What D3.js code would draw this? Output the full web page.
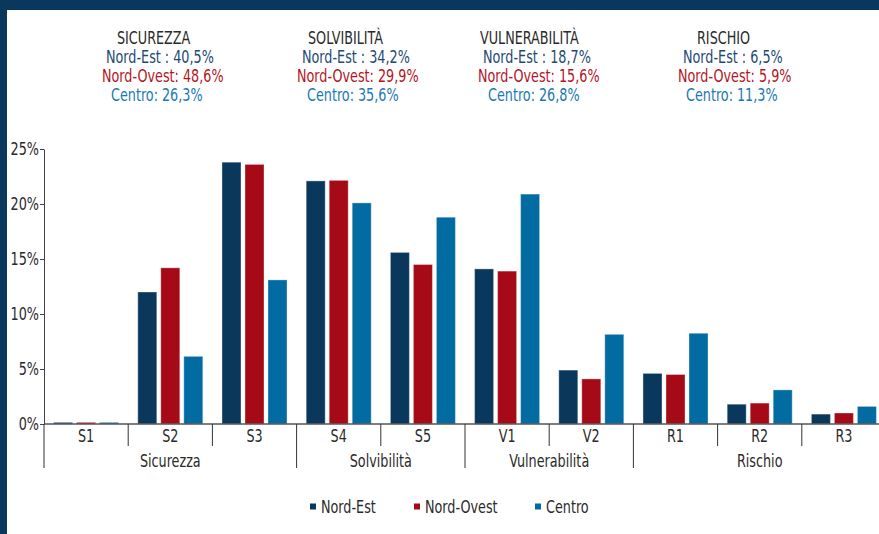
<!DOCTYPE html>
<html>
<head>
<meta charset="utf-8">
<script src="https://cdn.jsdelivr.net/npm/d3@7"></script>
<style>
  html, body { margin: 0; padding: 0; background: #fff; }
  svg { display: block; }
  text { font-family: "Liberation Sans Narrow", "DejaVu Sans Condensed", "Roboto", sans-serif; }
</style>
</head>
<body>
<div id="chart"></div>
<script>
// Indicator categories and their groups
const categories = ["S1", "S2", "S3", "S4", "S5", "V1", "V2", "R1", "R2", "R3"];
const groups = [
  { name: "Sicurezza", from: "S1", to: "S3" },
  { name: "Solvibilità", from: "S4", to: "S5" },
  { name: "Vulnerabilità", from: "V1", to: "V2" },
  { name: "Rischio", from: "R1", to: "R3" }
];
const seriesNames = ["Nord-Est", "Nord-Ovest", "Centro"];
const seriesColors = ["#0a385d", "#a50a16", "#016ba2"];
const textColors = ["#1d4a73", "#b3141f", "#1a78b3"];

// Share of firms per class (%)
const nordEst   = [0.15, 12.0, 23.8, 22.1, 15.6, 14.1, 4.9, 4.6, 1.8, 0.9];
const nordOvest = [0.15, 14.2, 23.6, 22.15, 14.5, 13.9, 4.1, 4.5, 1.9, 1.0];
const centro    = [0.15, 6.15, 13.1, 20.1, 18.8, 20.9, 8.15, 8.25, 3.1, 1.6];
const seriesValues = [nordEst, nordOvest, centro];

// Group totals shown in the headers
const headerTitles = ["SICUREZZA", "SOLVIBILITÀ", "VULNERABILITÀ", "RISCHIO"];
const headerNordEst   = ["40,5%", "34,2%", "18,7%", "6,5%"];
const headerNordOvest = ["48,6%", "29,9%", "15,6%", "5,9%"];
const headerCentro    = ["26,3%", "35,6%", "26,8%", "11,3%"];

const yTicks = [0, 5, 10, 15, 20, 25];

const W = 879, H = 534;
const svg = d3.select("#chart").append("svg").attr("width", W).attr("height", H);

// frame
svg.append("rect").attr("x", 0).attr("y", 0).attr("width", W).attr("height", 10).attr("fill", "#0a385d");
svg.append("rect").attr("x", 0).attr("y", 0).attr("width", 7).attr("height", H).attr("fill", "#0a385d");

const x0 = 44, x1 = 886, yTop = 149, yBase = 424;
const x = d3.scaleBand().domain(categories).range([x0, x1]).paddingInner(0).paddingOuter(0);
const xs = d3.scaleBand().domain(seriesNames).range([0, x.bandwidth()]).paddingInner(4 / 23).paddingOuter(0.417);
const y = d3.scaleLinear().domain([0, 25]).range([yBase, yTop]);

// bars
seriesNames.forEach((s, si) => {
  svg.append("g").selectAll("rect")
    .data(categories.map((c, i) => ({ c, v: seriesValues[si][i] })))
    .join("rect")
    .attr("x", d => x(d.c) + xs(s))
    .attr("y", d => y(d.v))
    .attr("width", xs.bandwidth())
    .attr("height", d => yBase - y(d.v))
    .attr("fill", seriesColors[si])
    .attr("stroke", "#ffffff")
    .attr("stroke-opacity", 0.35)
    .attr("stroke-width", 1);
});

// y axis
const yAxis = svg.append("g").attr("transform", `translate(${x0},0)`)
  .call(d3.axisLeft(y).tickValues(yTicks).tickFormat(d => d + "%").tickSize(4).tickSizeOuter(0));
yAxis.select(".domain").attr("stroke", "#444");
yAxis.selectAll(".tick line").attr("stroke", "#444");
yAxis.selectAll(".tick text").attr("font-size", 17).attr("fill", "#2a2a2a").attr("x", -5)
  .style("font-family", "'Liberation Sans Narrow','DejaVu Sans Condensed',Roboto,sans-serif");

// x axis baseline
svg.append("line").attr("x1", x0).attr("x2", x1).attr("y1", yBase).attr("y2", yBase)
  .attr("stroke", "#555").attr("stroke-width", 1.5);

// category labels and separators
const xg = svg.append("g");
xg.selectAll("text.cat").data(categories).join("text")
  .attr("class", "cat")
  .attr("x", d => x(d) + x.bandwidth() / 2)
  .attr("y", 442)
  .attr("text-anchor", "middle")
  .attr("font-size", 17)
  .attr("fill", "#2a2a2a")
  .text(d => d);

const groupEdges = new Set();
groups.forEach(g => { groupEdges.add(x(g.from)); groupEdges.add(x(g.to) + x.bandwidth()); });
const edges = categories.map(c => x(c)).concat([x1]);
xg.selectAll("line.sep").data(edges).join("line")
  .attr("class", "sep")
  .attr("x1", d => d).attr("x2", d => d)
  .attr("y1", yBase)
  .attr("y2", d => groupEdges.has(d) ? 468 : 446)
  .attr("stroke", "#333").attr("stroke-width", 1);

xg.selectAll("text.grp").data(groups).join("text")
  .attr("class", "grp")
  .attr("x", g => (x(g.from) + x(g.to) + x.bandwidth()) / 2)
  .attr("y", 467)
  .attr("text-anchor", "middle")
  .attr("font-size", 17)
  .attr("fill", "#2a2a2a")
  .text(g => g.name);

// headers
const headerPos = [
  { t: 117, ne: 106, no: 102, c: 111 },
  { t: 308, ne: 302, no: 297, c: 307 },
  { t: 480, ne: 483, no: 478, c: 488 },
  { t: 697, ne: 683, no: 678, c: 686 }
];
const hg = svg.append("g");
headerTitles.forEach((t, i) => {
  const p = headerPos[i];
  hg.append("text").attr("x", p.t).attr("y", 44).attr("font-size", 17).attr("fill", "#2a2a2a").text(t);
  hg.append("text").attr("x", p.ne).attr("y", 63).attr("font-size", 17).attr("fill", textColors[0])
    .text("Nord-Est : " + headerNordEst[i]);
  hg.append("text").attr("x", p.no).attr("y", 82).attr("font-size", 17).attr("fill", textColors[1])
    .text("Nord-Ovest: " + headerNordOvest[i]);
  hg.append("text").attr("x", p.c).attr("y", 101).attr("font-size", 17).attr("fill", textColors[2])
    .text("Centro: " + headerCentro[i]);
});

// legend
const legendX = [310, 414, 535];
const lg = svg.append("g");
seriesNames.forEach((s, i) => {
  lg.append("rect").attr("x", legendX[i]).attr("y", 503.5).attr("width", 6).attr("height", 6).attr("fill", seriesColors[i]);
  lg.append("text").attr("x", legendX[i] + 11).attr("y", 513).attr("font-size", 17).attr("fill", "#2a2a2a").text(s);
});

// condense all labels horizontally to a narrow typeface width
svg.selectAll("text").each(function () {
  const len = this.getComputedTextLength();
  if (len > 0) {
    d3.select(this).attr("textLength", len * 0.835).attr("lengthAdjust", "spacingAndGlyphs");
  }
});
</script>
</body>
</html>
